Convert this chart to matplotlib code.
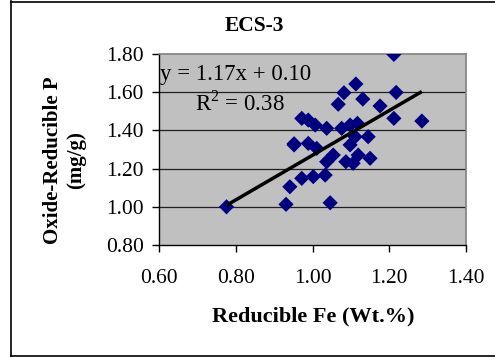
import matplotlib
matplotlib.use("Agg")
import matplotlib.pyplot as plt
from matplotlib.lines import Line2D
import numpy as np

# Data
fe = [0.776, 0.931, 0.941, 0.952, 0.972, 0.989, 1.007, 1.037, 0.952, 0.989,
      1.011, 0.972, 1.002, 1.033, 1.037, 1.046, 1.054, 1.067, 1.082, 1.113,
      1.131, 1.076, 1.098, 1.117, 1.111, 1.098, 1.087, 1.106, 1.119, 1.145,
      1.150, 1.176, 1.212, 1.218, 1.212, 1.285]
p = [1.000, 1.013, 1.105, 1.330, 1.463, 1.454, 1.428, 1.411, 1.324, 1.332,
     1.306, 1.149, 1.158, 1.166, 1.236, 1.021, 1.271, 1.537, 1.597, 1.643,
     1.564, 1.411, 1.428, 1.437, 1.367, 1.324, 1.236, 1.228, 1.271, 1.367,
     1.254, 1.528, 1.798, 1.599, 1.463, 1.449]
slope = 1.17
intercept = 0.10
x_ticks = [0.60, 0.80, 1.00, 1.20, 1.40]
y_ticks = [0.80, 1.00, 1.20, 1.40, 1.60, 1.80]
title = "ECS-3"
xlabel = "Reducible Fe (Wt.%)"
ylabel = "Oxide-Reducible P\n(mg/g)"
eq_text = "y = 1.17x + 0.10"
r2_text = "R$^2$ = 0.38"

plt.rcParams['font.family'] = ['Liberation Serif', 'DejaVu Serif']
plt.rcParams['mathtext.fontset'] = 'custom'
plt.rcParams['mathtext.rm'] = 'Liberation Serif'

W, H = 495, 357
fig = plt.figure(figsize=(W / 100, H / 100), dpi=100)
fig.patch.set_facecolor('white')

# outer chart border (left, top, bottom visible)
for xs, ys in [([11 / W, 11 / W], [1 - 1 / H, 1 - 356 / H]),
               ([11 / W, 1.0], [1 - 1.5 / H, 1 - 1.5 / H]),
               ([11 / W, 1.0], [1 - 355.5 / H, 1 - 355.5 / H])]:
    fig.add_artist(Line2D(xs, ys, color='black', lw=1.2, transform=fig.transFigure))

ax = fig.add_axes([159 / W, 1 - 245 / H, (466 - 159) / W, (245 - 54) / H])
ax.set_facecolor('#C0C0C0')
ax.set_xlim(0.60, 1.40)
ax.set_ylim(0.80, 1.80)
ax.set_xticks(x_ticks)
ax.set_yticks(y_ticks)
ax.set_xticklabels([f"{v:.2f}" for v in x_ticks])
ax.set_yticklabels([f"{v:.2f}" for v in y_ticks])
ax.tick_params(axis='both', labelsize=15.5, direction='out', length=5, width=1, color='black')
ax.tick_params(axis='x', pad=12)
ax.tick_params(axis='y', pad=6)

for v in y_ticks[1:-1]:
    ax.axhline(v, color='#202020', lw=0.9, zorder=1)

for s in ['top', 'right']:
    ax.spines[s].set_color('#808080')
    ax.spines[s].set_linewidth(1.2)
for s in ['left', 'bottom']:
    ax.spines[s].set_color('black')
    ax.spines[s].set_linewidth(1.0)

ax.scatter(fe, p, marker='D', s=60, color='#000080', edgecolors='none', zorder=3)

xl = np.array([min(fe), max(fe)])
ax.plot(xl, slope * xl + intercept, color='black', lw=2.5, zorder=4, solid_capstyle='butt')

ax.text(0.603, 1.695, eq_text, fontsize=16.5, va='center', ha='left', zorder=5)
ax.text(0.693, 1.545, r2_text, fontsize=16.5, va='center', ha='left', zorder=5)

fig.text(254 / W, 1 - 26 / H, title, fontsize=15.5, fontweight='bold', ha='center', va='center')
fig.text(313 / W, 1 - 316 / H, xlabel, fontsize=16, fontweight='bold', ha='center', va='center')
fig.text(65 / W, 1 - 160 / H, ylabel, fontsize=15, fontweight='bold', ha='center', va='center',
         rotation=90, linespacing=1.2, multialignment='center')

fig.savefig('out.png', dpi=100)
